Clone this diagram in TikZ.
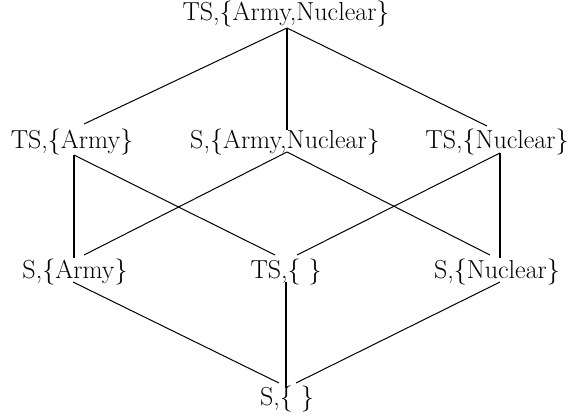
\documentclass[tikz,border=0pt]{standalone}
\begin{document}
\begin{tikzpicture}[x=1pt,y=-1pt,
  lbl/.style={inner sep=0pt,anchor=base,font=\fontsize{26}{30}\selectfont},
  edge/.style={line width=1pt},
  sidev/.style={line width=1.6pt},
  midv/.style={line width=2.6pt}]
\useasboundingbox (0,0) rectangle (569,417);
% nodes
\node[lbl] (top) at (286,21) {TS,\{Army,Nuclear\}};
\node[lbl] (tsa) at (72,148) {TS,\{Army\}};
\node[lbl] (san) at (285,148) {S,\{Army,Nuclear\}};
\node[lbl] (tsn) at (497,148) {TS,\{Nuclear\}};
\node[lbl] (sa) at (75,278) {S,\{Army\}};
\node[lbl] (ts) at (286,278) {TS,\{ \}};
\node[lbl] (sn) at (497,278) {S,\{Nuclear\}};
\node[lbl] (s) at (287,405) {S,\{ \}};
% connector end points
\coordinate (top-b) at (287,28);
\coordinate (tsa-t) at (84,124);
\coordinate (san-t) at (287,130);
\coordinate (tsn-t) at (487,126);
\coordinate (tsa-b) at (74,155);
\coordinate (san-b) at (287,152);
\coordinate (tsn-b) at (500,153);
\coordinate (sa-tv) at (74,258);
\coordinate (sa-td) at (84,255);
\coordinate (ts-tl) at (275,255);
\coordinate (ts-tr) at (297,255);
\coordinate (sn-td) at (490,255);
\coordinate (sn-tv) at (500,258);
\coordinate (sa-b) at (73,282);
\coordinate (ts-b) at (286,282);
\coordinate (sn-b) at (500,282);
\coordinate (s-tl) at (279,383);
\coordinate (s-tv) at (286,388);
\coordinate (s-tr) at (296,383);
% connectors
\draw[edge] (top-b) -- (tsa-t);
\draw[midv] (top-b) -- (san-t);
\draw[edge] (top-b) -- (tsn-t);
\draw[sidev] (tsa-b) -- (sa-tv);
\draw[edge] (tsa-b) -- (ts-tl);
\draw[edge] (san-b) -- (sa-td);
\draw[edge] (san-b) -- (sn-td);
\draw[edge] (tsn-b) -- (ts-tr);
\draw[sidev] (tsn-b) -- (sn-tv);
\draw[edge] (sa-b) -- (s-tl);
\draw[midv] (ts-b) -- (s-tv);
\draw[edge] (sn-b) -- (s-tr);
\end{tikzpicture}
\end{document}
